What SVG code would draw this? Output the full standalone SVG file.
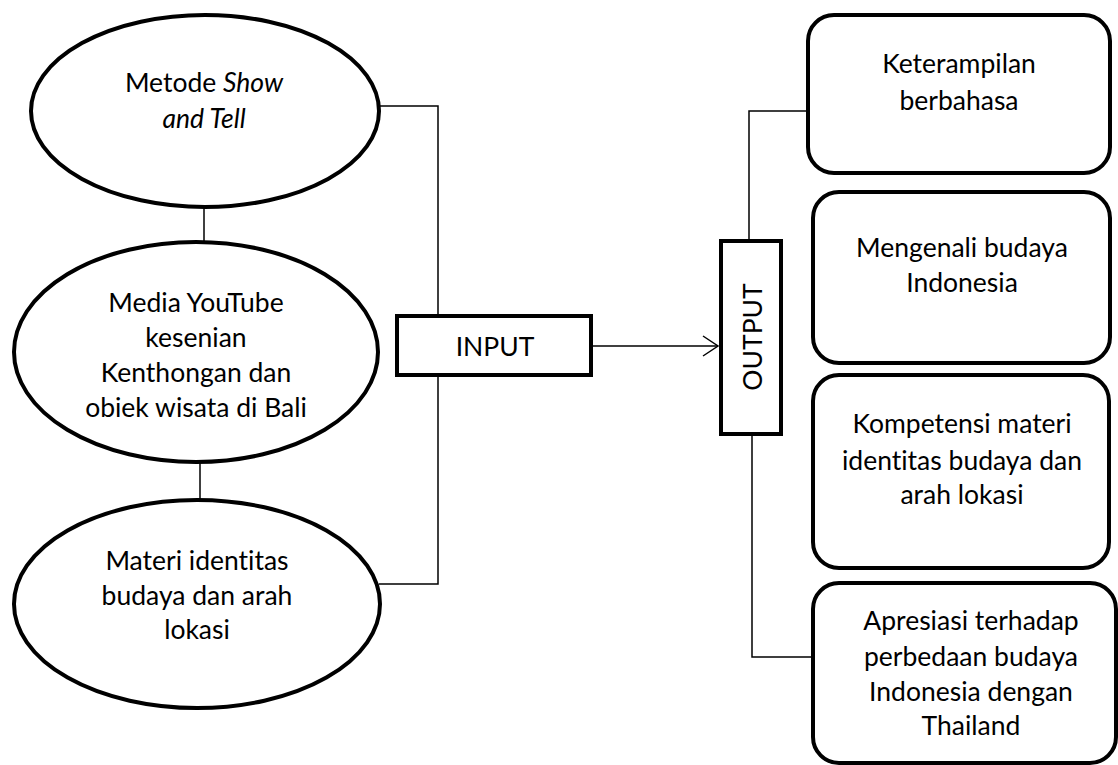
<svg xmlns="http://www.w3.org/2000/svg" width="1118" height="765" viewBox="0 0 1118 765">
<style>
.node{fill:#fff;stroke:#000;stroke-width:4}
.conn{fill:none;stroke:#000;stroke-width:1.5}
text{font-family:Lato,"Open Sans","Liberation Sans",sans-serif;font-size:26.5px;fill:#000;text-anchor:middle;font-variant-ligatures:none;font-feature-settings:"liga" 0}
</style>
<rect width="1118" height="765" fill="#fff"/>
<g id="connectors">
<line class="conn" x1="204" y1="208" x2="204" y2="241"/>
<line class="conn" x1="200" y1="462" x2="200" y2="501"/>
<polyline class="conn" points="379,106 438,106 438,584 379,584"/>
<line class="conn" x1="591" y1="346" x2="718" y2="346"/>
<polyline class="conn" points="703,336 718,346 703,356"/>
<polyline class="conn" points="808,111 749,111 749,241"/>
<polyline class="conn" points="752,434 752,657 813,657"/>
</g>
<g id="n1">
<ellipse class="node" cx="205" cy="111" rx="174" ry="96"/>
<text x="204" y="92">Metode <tspan font-style="italic">Show</tspan></text>
<text x="204" y="128" font-style="italic">and Tell</text>
</g>
<g id="n2">
<ellipse class="node" cx="196" cy="352" rx="182" ry="110"/>
<text x="196" y="312">Media YouTube</text>
<text x="196" y="347">kesenian</text>
<text x="196" y="382">Kenthongan dan</text>
<text x="196" y="417">obiek wisata di Bali</text>
</g>
<g id="n3">
<ellipse class="node" cx="197" cy="604" rx="183" ry="104"/>
<text x="197" y="570">Materi identitas</text>
<text x="197" y="605">budaya dan arah</text>
<text x="197" y="639">lokasi</text>
</g>
<g id="input">
<rect class="node" x="397" y="316" width="194" height="59"/>
<text x="495" y="356">INPUT</text>
</g>
<g id="output">
<rect class="node" x="721" y="241" width="60" height="193"/>
<text transform="translate(762,337) rotate(-90)">OUTPUT</text>
</g>
<g id="o1">
<rect class="node" x="808" y="15" width="302" height="158" rx="26"/>
<text x="959" y="73">Keterampilan</text>
<text x="959" y="110">berbahasa</text>
</g>
<g id="o2">
<rect class="node" x="813" y="192" width="297" height="171" rx="26"/>
<text x="962" y="257">Mengenali budaya</text>
<text x="962" y="292">Indonesia</text>
</g>
<g id="o3">
<rect class="node" x="813" y="375" width="296" height="193" rx="26"/>
<text x="962" y="433">Kompetensi materi</text>
<text x="962" y="470">identitas budaya dan</text>
<text x="962" y="504">arah lokasi</text>
</g>
<g id="o4">
<rect class="node" x="813" y="583" width="303" height="180" rx="26"/>
<text x="971" y="630">Apresiasi terhadap</text>
<text x="971" y="666">perbedaan budaya</text>
<text x="971" y="701">Indonesia dengan</text>
<text x="971" y="735">Thailand</text>
</g>
</svg>
